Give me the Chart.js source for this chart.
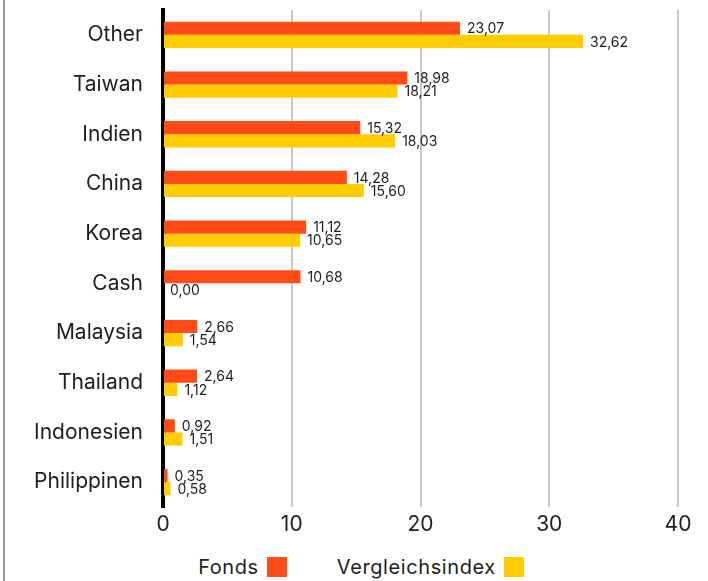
<!DOCTYPE html>
<html>
<head>
<meta charset="utf-8">
<script src="https://cdn.jsdelivr.net/npm/chart.js@4.4.1/dist/chart.umd.min.js"></script>
<style>
  html, body { margin: 0; padding: 0; background: #fff; }
  body { width: 708px; height: 581px; overflow: hidden; font-family: Inter, "Noto Sans", sans-serif; }
  #frame { position: absolute; left: 3px; top: 0; width: 2px; height: 581px; background: #9a9a9a; }
  #wrap { position: absolute; left: 0; top: 0; width: 708px; height: 540px; }
  #legend { position: absolute; left: 0; top: 555px; width: 708px; display: flex; justify-content: center; gap: 50px; padding-left: 14px; box-sizing: border-box; }
  .item { display: flex; align-items: center; font-size: 20px; letter-spacing: 0.6px; color: #1e1e1e; }
  .item i { display: inline-block; width: 20px; height: 20px; margin-left: 8px; }
</style>
</head>
<body>
<div id="frame"></div>
<div id="wrap"><canvas id="c"></canvas></div>
<div id="legend"></div>
<script>
// ===== 資料 =====
const categories = ['Other','Taiwan','Indien','China','Korea','Cash','Malaysia','Thailand','Indonesien','Philippinen'];
const fondsValues = [23.07, 18.98, 15.32, 14.28, 11.12, 10.68, 2.66, 2.64, 0.92, 0.35];
const indexValues = [32.62, 18.21, 18.03, 15.60, 10.65, 0.00, 1.54, 1.12, 1.51, 0.58];
const seriesNames = ['Fonds', 'Vergleichsindex'];
const xTicks = [0, 10, 20, 30, 40];

const COLORS = ['#ff4b17', '#ffcc00'];
const TEXT = '#1e1e1e';
const FONT = 'Inter, "Noto Sans", sans-serif';
const fmt = v => v.toFixed(2).replace('.', ',');

// 每根 bar 右側標數值
const valueLabels = {
  id: 'valueLabels',
  afterDatasetsDraw(chart) {
    const ctx = chart.ctx;
    ctx.save();
    ctx.font = '14px ' + FONT;
    ctx.fillStyle = TEXT;
    ctx.textAlign = 'left';
    ctx.textBaseline = 'middle';
    chart.data.datasets.forEach((ds, i) => {
      chart.getDatasetMeta(i).data.forEach((bar, j) => {
        ctx.fillText(fmt(ds.data[j]), bar.x + 7, bar.y + 1);
      });
    });
    ctx.restore();
  }
};

new Chart(document.getElementById('c'), {
  type: 'bar',
  data: {
    labels: categories,
    datasets: [
      { label: seriesNames[0], data: fondsValues, backgroundColor: COLORS[0] },
      { label: seriesNames[1], data: indexValues, backgroundColor: COLORS[1] }
    ]
  },
  options: {
    indexAxis: 'y',
    responsive: true,
    maintainAspectRatio: false,
    animation: false,
    datasets: { bar: { categoryPercentage: 0.53, barPercentage: 1 } },
    layout: { padding: { top: 10, right: 30, left: 0, bottom: 0 } },
    plugins: { legend: { display: false }, tooltip: { enabled: false } },
    scales: {
      x: {
        min: 0, max: 40,
        afterBuildTicks: s => { s.ticks = xTicks.map(v => ({ value: v })); },
        afterFit: s => { s.height = 33; s.paddingLeft = 0; s.paddingRight = 0; },
        grid: { color: '#c8c8c8', lineWidth: 2, drawTicks: false },
        border: { display: false },
        ticks: { color: TEXT, padding: 5, font: { size: 21, family: FONT } }
      },
      y: {
        afterFit: s => { s.width = 163; s.paddingTop = 0; s.paddingBottom = 0; },
        grid: { display: false, drawTicks: false },
        border: { color: '#000', width: 4 },
        ticks: { color: TEXT, padding: 20, font: { size: 21, family: FONT } }
      }
    }
  },
  plugins: [valueLabels]
});

// 底部圖例（文字在左、色塊在右）
document.getElementById('legend').innerHTML = seriesNames
  .map((n, i) => `<span class="item">${n}<i style="background:${COLORS[i]}"></i></span>`).join('');
</script>
</body>
</html>
